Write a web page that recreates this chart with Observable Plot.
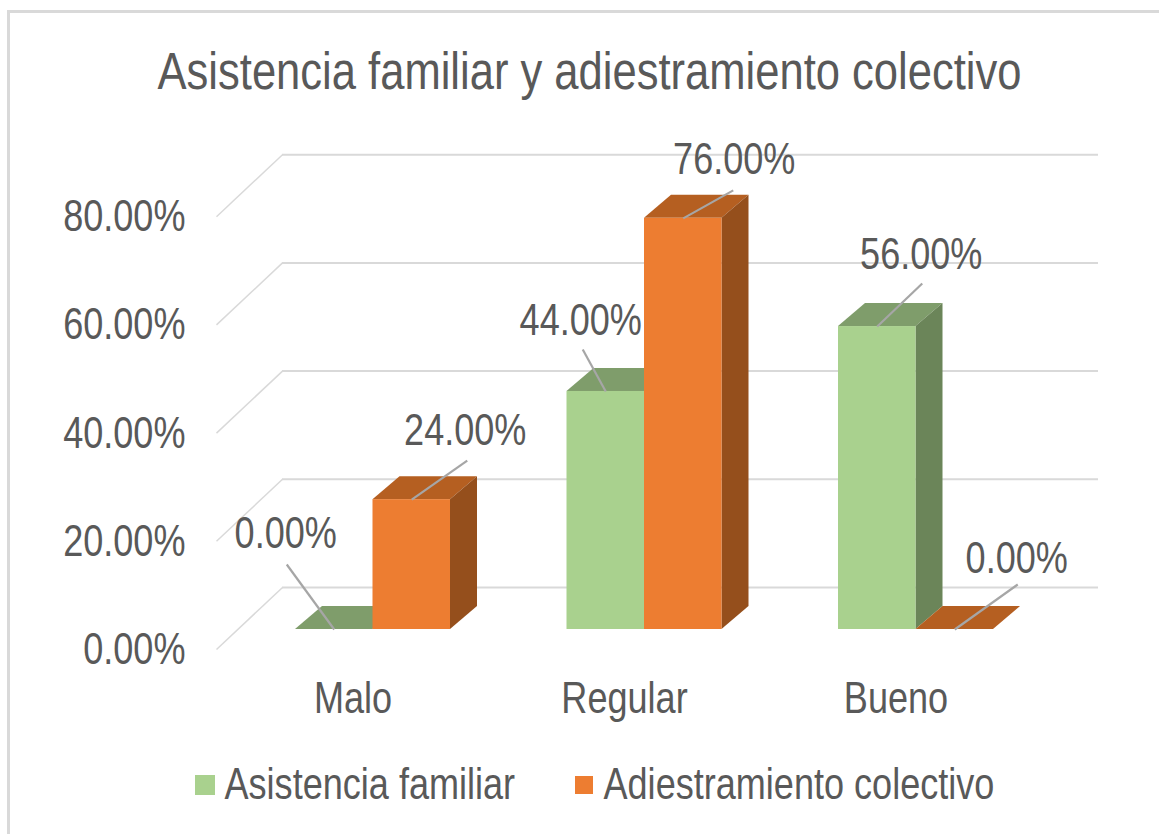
<!DOCTYPE html>
<html>
<head>
<meta charset="utf-8">
<script src="https://cdn.jsdelivr.net/npm/d3@7"></script>
<script src="https://cdn.jsdelivr.net/npm/@observablehq/plot@0.6"></script>
<style>
  html, body { margin: 0; padding: 0; background: #fff; }
  #frame { position: absolute; left: 7px; top: 10px; right: 0; bottom: 0; border-left: 3px solid #d9d9d9; border-top: 3px solid #d9d9d9; pointer-events: none; }
  #chart { position: absolute; left: 0; top: 0; }
  svg { display: block; }
</style>
</head>
<body>
<div id="chart"></div>
<div id="frame"></div>
<script>
const titleText = "Asistencia familiar y adiestramiento colectivo";
const categories = ["Malo", "Regular", "Bueno"];
const seriesNames = ["Asistencia familiar", "Adiestramiento colectivo"];
const asistencia = [0, 44, 56];
const adiestramiento = [24, 76, 0];
const yTicks = [0, 20, 40, 60, 80];

// Layout (pixels): offsets of each data label and leader line from its bar, by series then category
const labelOffsets = [[[-48.5, -96], [-25, -71], [44, -72]], [[53.5, -69], [51, -58], [62, -71]]];
const leaderOffsets = [[[-47.5, -65], [-23, -42], [45, -43]], [[55.5, -39], [50, -28], [63, -45]]];
const legendSwatchX = [195, 575], legendSwatchSize = [20, 18], legendTextX = [224, 603];
const palette = [
  {front: "#a9d18e", top: "#7f9d6b", side: "#6b8559"},
  {front: "#ed7d31", top: "#b55f21", side: "#954f1c"}
];

const W = 1159, H = 834;
const mLeft = 185, mBottom = 205, mTop = 0;
const unitX = 271.5, unitY = 5.41, originX = 372.5, originY = H - mBottom;
const ux = p => p / unitX, uy = p => p / unitY;
const atX = p => ux(p - originX), atY = p => uy(originY - p);
const barW = ux(77.5), depX = ux(27), depY = uy(23);
const font = "'Liberation Sans', Arial, sans-serif";
const ink = "#595959";
const condense = 0.82, condenseTitle = 0.8375;
const fmt = v => v.toFixed(2) + "%";

const series = [asistencia, adiestramiento];
const rows = series.map((vals, s) => vals.map((value, i) => {
  const x0 = i + (s - 1) * barW, x1 = x0 + barW, cx = x0 + barW / 2;
  return {i, s, value, x0, x1, cx,
    lx: cx + ux(labelOffsets[s][i][0]), ly: value - uy(labelOffsets[s][i][1]),
    ex: cx + ux(leaderOffsets[s][i][0]), ey: value - uy(leaderOffsets[s][i][1])};
}));

const barMarks = rows.flatMap((row, s) => {
  const c = palette[s];
  const topPts = row.flatMap(r => [
    {i: r.i, y: r.value, x1: r.x0, x2: r.x1},
    {i: r.i, y: r.value + depY, x1: r.x0 + depX, x2: r.x1 + depX}
  ]);
  const visible = row.filter(r => r.value > 0);
  const sidePts = visible.flatMap(r => [
    {i: r.i, x: r.x1, y1: 0, y2: r.value},
    {i: r.i, x: r.x1 + depX, y1: depY, y2: r.value + depY}
  ]);
  return [
    Plot.areaX(topPts, {y: "y", x1: "x1", x2: "x2", z: "i", fill: c.top}),
    Plot.areaY(sidePts, {x: "x", y1: "y1", y2: "y2", z: "i", fill: c.side}),
    Plot.rect(visible, {x1: "x0", x2: "x1", y1: 0, y2: "value", fill: c.front})
  ];
});

const legendMarks = seriesNames.flatMap((name, s) => {
  const sx = legendSwatchX[s], side = legendSwatchSize[s];
  return [
    Plot.rect([name], {x1: () => atX(sx), x2: () => atX(sx + side), y1: () => atY(785 + side / 2), y2: () => atY(785 - side / 2), fill: palette[s].front}),
    Plot.text([name], {x: () => atX(legendTextX[s]), y: () => atY(784.5), text: d => d, textAnchor: "start", lineAnchor: "middle", fontSize: 44, fill: ink})
  ];
});

const all = rows.flat();
const gridBack = uy(42), gridFront = -uy(20);
const wallX0 = atX(216), wallX1 = atX(282), gridEnd = atX(1098);

const chart = Plot.plot({
  width: W, height: H,
  marginLeft: mLeft, marginRight: 0, marginTop: mTop, marginBottom: mBottom,
  x: {type: "linear", domain: [atX(mLeft), atX(W)], range: [mLeft, W]},
  y: {type: "linear", domain: [0, uy(originY - mTop)], range: [originY, mTop]},
  style: {fontFamily: font, background: "transparent", overflow: "visible"},
  marks: [
    Plot.ruleY(yTicks, {y: d => d + gridBack, x1: wallX1, x2: gridEnd, stroke: "#d9d9d9", strokeWidth: 2}),
    Plot.link(yTicks, {x1: wallX0, x2: wallX1, y1: d => d + gridFront, y2: d => d + gridBack, stroke: "#d9d9d9", strokeWidth: 1.5}),
    ...barMarks,
    Plot.link(all, {x1: "cx", y1: "value", x2: "ex", y2: "ey", stroke: "#a6a6a6", strokeWidth: 2.2}),
    Plot.text(all, {x: "lx", y: "ly", text: d => fmt(d.value), fontSize: 44, fill: ink, lineAnchor: "middle", textAnchor: "middle"}),
    Plot.axisY({ticks: yTicks, tickFormat: fmt, tickSize: 0, tickPadding: 0, label: null, dy: 20.5, fontSize: 44, color: ink}),
    Plot.axisX({ticks: [0, 1, 2], tickFormat: d => categories[d], tickSize: 0, tickPadding: 52, label: null, dx: -20, fontSize: 44, color: ink}),
    Plot.text([titleText], {x: () => atX(589), y: () => atY(72), text: d => d, textAnchor: "middle", lineAnchor: "middle", fontSize: 52, fill: ink}),
    ...legendMarks
  ]
});
document.getElementById("chart").appendChild(chart);

// The reference's type is horizontally condensed: keep real text, narrow its glyphs about each anchor point.
d3.select(chart).selectAll("text").each(function () {
  const r = this.textContent === titleText ? condenseTitle : condense;
  const x = +this.getAttribute("x") || 0, y = +this.getAttribute("y") || 0;
  const base = this.getAttribute("transform") || "";
  this.setAttribute("transform", `${base} translate(${x},${y}) scale(${r},1) translate(${-x},${-y})`);
});
</script>
</body>
</html>
